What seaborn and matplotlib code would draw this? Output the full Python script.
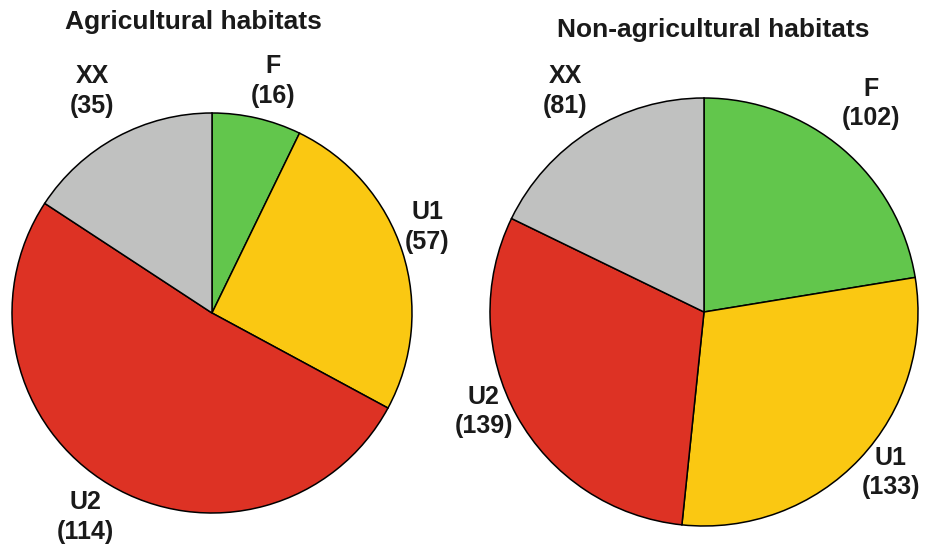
import numpy as np
import matplotlib
matplotlib.use("Agg")
import matplotlib.pyplot as plt
import seaborn as sns

sns.set_theme(style="white")
plt.rcParams['font.family'] = ['Liberation Sans', 'DejaVu Sans']

categories = ["F", "U1", "U2", "XX"]
agri_values = [16, 57, 114, 35]
nonagri_values = [102, 133, 139, 81]
titles = ["Agricultural habitats", "Non-agricultural habitats"]
colors = ["#62C64C", "#FAC812", "#DD3224", "#C0C1C0"]

# label placement (relative distance, angular nudge in degrees clockwise)
agri_dist = [1.20, 1.16, 1.20, 1.26]
agri_nudge = [1.7, -4.0, 1.0, 0.0]
nonagri_dist = [1.25, 1.15, 1.13, 1.22]
nonagri_nudge = [-1.6, -2.6, 4.8, 0.0]

W, H = 927, 551
fig = plt.figure(figsize=(W / 100, H / 100), dpi=100)

def make_ax(cx, cy, r):
    return fig.add_axes([(cx - r) / W, (H - cy - r) / H, 2 * r / W, 2 * r / H])

def draw(ax, values, dists, nudges):
    wedges, _ = ax.pie(values, colors=colors, startangle=90, counterclock=False,
                       wedgeprops=dict(edgecolor="black", linewidth=1.1),
                       radius=1.0)
    ax.set_xlim(-1, 1)
    ax.set_ylim(-1, 1)
    ax.set_aspect("equal")
    ax.axis("off")
    for w, cat, v, d, n in zip(wedges, categories, values, dists, nudges):
        ang = np.deg2rad((w.theta1 + w.theta2) / 2 - n)
        ax.text(d * np.cos(ang), d * np.sin(ang), f"{cat}\n({v})",
                ha="center", va="center", fontsize=18, fontweight="bold",
                linespacing=1.3, color="#1a1a1a", clip_on=False)

ax1 = make_ax(212, 313, 200)
draw(ax1, agri_values, agri_dist, agri_nudge)
ax2 = make_ax(704, 312, 214)
draw(ax2, nonagri_values, nonagri_dist, nonagri_nudge)

fig.text(193 / W, 1 - 29 / H, titles[0], ha="center", va="baseline",
         fontsize=19, fontweight="bold", color="#1a1a1a")
fig.text(713 / W, 1 - 37 / H, titles[1], ha="center", va="baseline",
         fontsize=19, fontweight="bold", color="#1a1a1a")

fig.savefig("out.png", dpi=100)
